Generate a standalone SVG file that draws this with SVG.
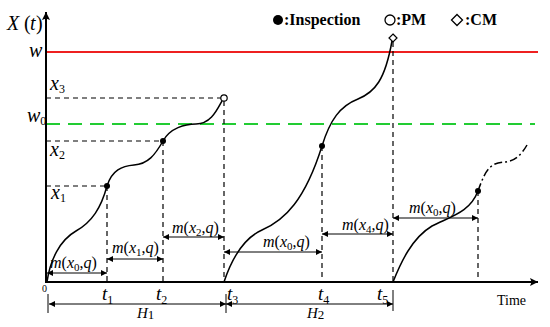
<svg xmlns="http://www.w3.org/2000/svg" width="550" height="327" viewBox="0 0 550 327">
<style>
text{font-family:"Liberation Serif","Times New Roman",serif;fill:#000}
.it{font-style:italic}
.lab{font-size:16px}
.big{font-size:20px}
.tl{font-size:19px}
.leg{font-size:16px;font-weight:bold}
.axis{stroke:#000;stroke-width:2;fill:none}
.dash{stroke:#000;stroke-width:1.2;stroke-dasharray:5,4;fill:none}
.curve{stroke:#000;stroke-width:1.5;fill:none}
.dim{stroke:#000;stroke-width:1;fill:none;marker-start:url(#ah);marker-end:url(#ah)}
.tick{stroke:#000;stroke-width:1}
</style>
<defs>
<marker id="ah" viewBox="0 0 10 10" refX="10" refY="5" markerWidth="7" markerHeight="6" markerUnits="userSpaceOnUse" orient="auto-start-reverse">
<path d="M0,0 L10,5 L0,10 Z" fill="#000"/>
</marker>
<marker id="axh" viewBox="0 0 10 10" refX="10" refY="5" markerWidth="11" markerHeight="8" markerUnits="userSpaceOnUse" orient="auto">
<path d="M0,0 L10,5 L0,10 L2,5 Z" fill="#000"/>
</marker>
</defs>
<rect width="550" height="327" fill="#fff"/>

<g id="thresholds">
<line x1="46" y1="52" x2="538" y2="52" stroke="#ee2020" stroke-width="2"/>
<line x1="46" y1="124" x2="535" y2="124" stroke="#22cc33" stroke-width="2" stroke-dasharray="14,8"/>
</g>

<g id="axes">
<line class="axis" x1="46" y1="283" x2="46" y2="12" marker-end="url(#axh)"/>
<line class="axis" x1="45" y1="282" x2="538" y2="282" marker-end="url(#axh)"/>
</g>

<g id="guides">
<path class="dash" d="M46,98 H221 M46,141 H163 M46,186 H107"/>
<path class="dash" d="M107,186 V282 M163,141 V282 M224,101 V282 M322,146 V282 M393,42 V282 M478,191 V282"/>
</g>

<g id="curves">
<path class="curve" d="M47,282 C50,260 60,240 76,231 C92,222 101,208 107,186 C112,170 122,166 134,165 C148,164 155,155 163,141 C170,128 185,124 196,124 C210,124 216,112 222,101"/>
<path class="curve" d="M224,282 C232,258 244,238 262,230 C285,220 305,200 322,146 C330,120 340,106 358,99 C375,92 385,80 392,41"/>
<path class="curve" d="M393,282 C401,262 412,238 432,226 C452,216 470,212 478,191"/>
<path class="curve" stroke-dasharray="8,3,2,3" d="M478,191 C482,180 486,168 495,164 C505,160 515,166 527,145"/>
</g>

<g id="events">
<circle cx="107" cy="186" r="3" fill="#000"/>
<circle cx="163" cy="141" r="3" fill="#000"/>
<circle cx="322" cy="146" r="3" fill="#000"/>
<circle cx="478" cy="191" r="3" fill="#000"/>
<circle cx="224" cy="98" r="3.2" fill="#fff" stroke="#000" stroke-width="1.2"/>
<path d="M393,34 L397,38 L393,42 L389,38 Z" fill="#fff" stroke="#000" stroke-width="1.2"/>
</g>

<g id="connectors">
<line class="dim" x1="47" y1="273" x2="107" y2="273"/>
<line class="dim" x1="107" y1="259" x2="163" y2="259"/>
<line class="dim" x1="163" y1="237" x2="224" y2="237"/>
<line class="dim" x1="224" y1="252" x2="322" y2="252"/>
<line class="dim" x1="322" y1="234" x2="393" y2="234"/>
<line class="dim" x1="393" y1="218" x2="478" y2="218"/>
<line class="dim" x1="49" y1="304" x2="226" y2="304"/>
<line class="dim" x1="226" y1="304" x2="393" y2="304"/>
<path class="tick" d="M48,294 V313 M226,294 V313 M393,290 V311"/>
</g>

<g id="legend">
<circle cx="278" cy="20" r="5" fill="#000"/>
<text class="leg" x="284" y="25">:Inspection</text>
<circle cx="390" cy="20" r="5" fill="#fff" stroke="#000" stroke-width="1.3"/>
<text class="leg" x="396" y="25">:PM</text>
<path d="M457,14.5 L462.5,20 L457,25.5 L451.5,20 Z" fill="#fff" stroke="#000" stroke-width="1.3"/>
<text class="leg" x="465" y="25">:CM</text>
</g>

<g id="y-labels">
<text class="big" x="7" y="30"><tspan class="it">X</tspan><tspan x="24">(</tspan><tspan class="it" x="30">t</tspan><tspan x="36">)</tspan></text>
<text class="big it" x="29" y="57">w</text>
<text class="big" x="27" y="122"><tspan class="it">w</tspan><tspan font-size="12" dy="3">0</tspan></text>
<text class="big" x="50" y="90"><tspan class="it">x</tspan><tspan font-size="12" dy="3">3</tspan></text>
<text class="big" x="50" y="156"><tspan class="it">x</tspan><tspan font-size="12" dy="3">2</tspan></text>
<text class="big" x="51" y="199"><tspan class="it">x</tspan><tspan font-size="12" dy="3">1</tspan></text>
</g>

<g id="interval-labels">
<text class="lab" x="50" y="268"><tspan class="it">m</tspan>(<tspan class="it">x</tspan><tspan font-size="11" dy="3">0</tspan><tspan dy="-3">,</tspan><tspan class="it">q</tspan>)</text>
<text class="lab" x="112" y="253"><tspan class="it">m</tspan>(<tspan class="it">x</tspan><tspan font-size="11" dy="3">1</tspan><tspan dy="-3">,</tspan><tspan class="it">q</tspan>)</text>
<text class="lab" x="172" y="233"><tspan class="it">m</tspan>(<tspan class="it">x</tspan><tspan font-size="11" dy="3">2</tspan><tspan dy="-3">,</tspan><tspan class="it">q</tspan>)</text>
<text class="lab" x="263" y="247"><tspan class="it">m</tspan>(<tspan class="it">x</tspan><tspan font-size="11" dy="3">0</tspan><tspan dy="-3">,</tspan><tspan class="it">q</tspan>)</text>
<text class="lab" x="342" y="230"><tspan class="it">m</tspan>(<tspan class="it">x</tspan><tspan font-size="11" dy="3">4</tspan><tspan dy="-3">,</tspan><tspan class="it">q</tspan>)</text>
<text class="lab" x="409" y="213"><tspan class="it">m</tspan>(<tspan class="it">x</tspan><tspan font-size="11" dy="3">0</tspan><tspan dy="-3">,</tspan><tspan class="it">q</tspan>)</text>
</g>

<g id="time-labels">
<text x="42" y="292" font-size="10">0</text>
<text class="tl" x="102" y="300"><tspan class="it">t</tspan><tspan font-size="12" dy="4">1</tspan></text>
<text class="tl" x="156" y="300"><tspan class="it">t</tspan><tspan font-size="12" dy="4">2</tspan></text>
<text class="tl" x="227" y="300"><tspan class="it">t</tspan><tspan font-size="12" dy="4">3</tspan></text>
<text class="tl" x="318" y="300"><tspan class="it">t</tspan><tspan font-size="12" dy="4">4</tspan></text>
<text class="tl" x="377" y="300"><tspan class="it">t</tspan><tspan font-size="12" dy="4">5</tspan></text>
<text x="497" y="305" font-size="14">Time</text>
<text x="137" y="318" font-size="15"><tspan class="it">H</tspan><tspan font-size="13" dy="1">1</tspan></text>
<text x="307" y="318" font-size="15"><tspan class="it">H</tspan><tspan font-size="13" dy="1">2</tspan></text>
</g>
</svg>
